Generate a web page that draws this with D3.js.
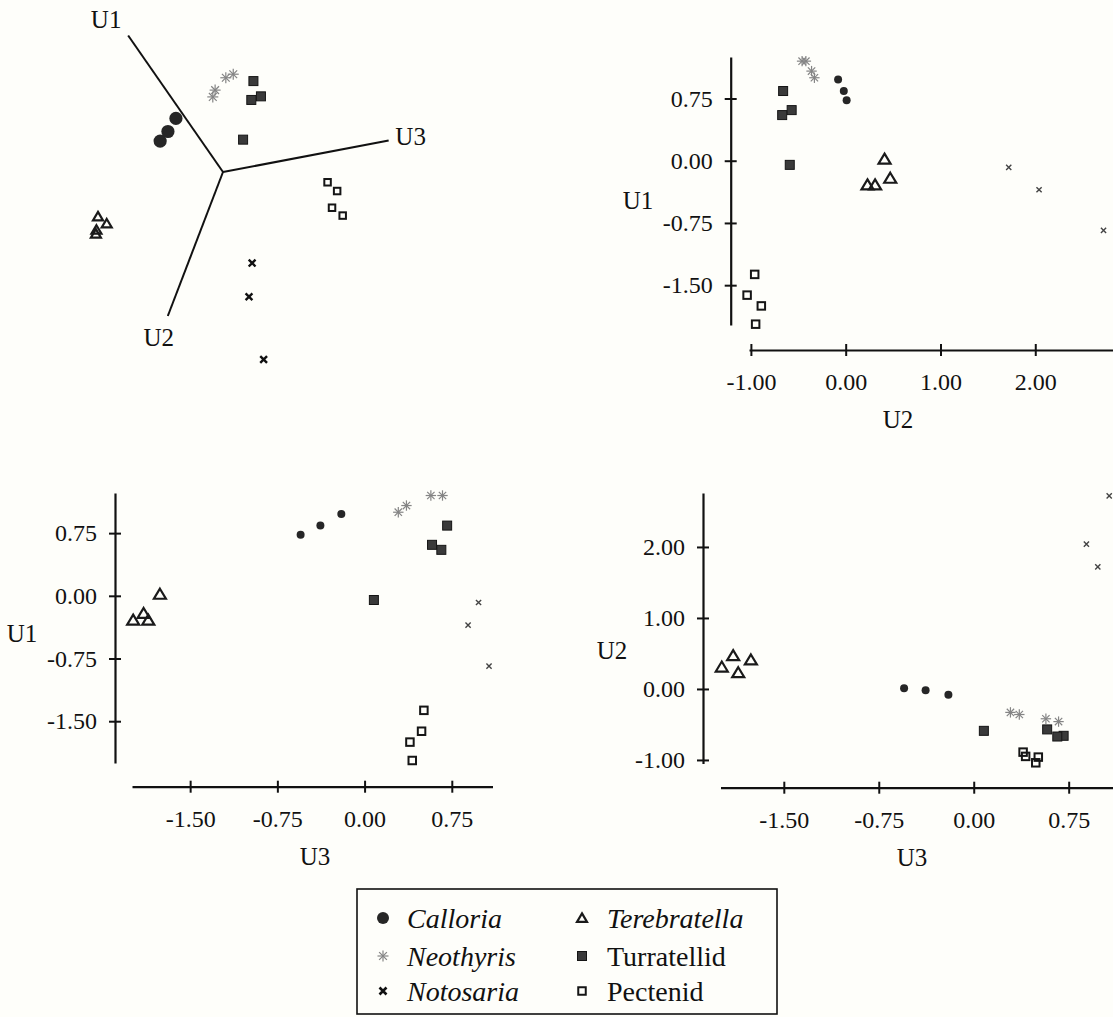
<!DOCTYPE html>
<html><head><meta charset="utf-8">
<script src="https://cdn.jsdelivr.net/npm/d3@7"></script>
<style>body{margin:0;background:#fefefa}svg{display:block}text{font-family:"Liberation Serif","Times New Roman",serif}</style>
</head><body><svg id="c" width="1113" height="1017"></svg>
<script>
// ---------- data ----------
const species = ["Calloria","Neothyris","Notosaria","Terebratella","Turratellid","Pectenid"];
const italicNames = [true, true, true, true, false, false];
// each point: [U1, U2, U3]
const calloria     = [[0.73, 0.01,-0.55],[0.84,-0.02,-0.38],[0.98,-0.08,-0.20]];
const neothyris    = [[1.00,-0.33, 0.29],[1.08,-0.36, 0.36],[1.20,-0.42, 0.57],[1.20,-0.46, 0.67]];
const notosaria    = [[-0.08,1.72, 0.98],[-0.35,2.04, 0.89],[-0.84,2.72, 1.07]];
const terebratella = [[0.02, 0.41,-1.76],[-0.21,0.47,-1.90],[-0.29,0.31,-1.99],[-0.29,0.23,-1.86]];
const turratellid  = [[-0.05,-0.59,0.08],[0.61,-0.57, 0.58],[0.84,-0.66, 0.71],[0.55,-0.67, 0.66]];
const pectenid     = [[-1.37,-0.96,0.51],[-1.62,-1.04,0.49],[-1.75,-0.89,0.39],[-1.97,-0.95,0.41]];
const ticksU1  = [0.75, 0, -0.75, -1.5];
const ticksU2  = [-1, 0, 1, 2];
const ticksU2v = [2, 1, 0, -1];
const ticksU3  = [-1.5, -0.75, 0, 0.75];
const axisNames = ["U1","U2","U3"];
const axisLengths3D = [2.6, 2.5, 2.53];

const groups = [calloria, neothyris, notosaria, terebratella, turratellid, pectenid];
const FONT = '"Liberation Serif","Times New Roman",serif';
const svg = d3.select("#c");
svg.append("rect").attr("width",1113).attr("height",1017).attr("fill","#fefefa");

// ---------- symbols ----------
function sym(g, kind, x, y, big) {
  const t = g.append("g").attr("transform", `translate(${x},${y})`);
  if (kind === "Calloria") {
    t.append("circle").attr("r", big ? 6.6 : 4).attr("fill", "#262626");
  } else if (kind === "Neothyris") {
    const r = big ? 5.5 : 5.2;
    for (let a = 0; a < 180; a += 45) {
      const rad = a * Math.PI / 180;
      t.append("line").attr("x1", -r*Math.cos(rad)).attr("y1", -r*Math.sin(rad))
        .attr("x2", r*Math.cos(rad)).attr("y2", r*Math.sin(rad))
        .attr("stroke", "#858585").attr("stroke-width", 1.2);
    }
  } else if (kind === "Notosaria") {
    const r = big ? 3.4 : 2.6;
    t.append("path").attr("d", `M${-r},${-r}L${r},${r}M${-r},${r}L${r},${-r}`)
      .attr("stroke", big ? "#111" : "#444").attr("stroke-width", big ? 2.4 : 1.4).attr("fill","none");
  } else if (kind === "Terebratella") {
    const w = big ? 5 : 6, h = big ? 4.6 : 5.4;
    t.append("path").attr("d", `M0,${-h}L${w},${h*0.85}L${-w},${h*0.85}Z`)
      .attr("fill", "none").attr("stroke", "#1a1a1a").attr("stroke-width", 2.2).attr("stroke-linejoin","miter");
  } else if (kind === "Turratellid") {
    const s = 9;
    t.append("rect").attr("x", -s/2).attr("y", -s/2).attr("width", s).attr("height", s)
      .attr("fill", "#3a3a3a").attr("stroke", "#151515").attr("stroke-width", 1);
  } else if (kind === "Pectenid") {
    const s = big ? 6.5 : 7.5;
    t.append("rect").attr("x", -s/2).attr("y", -s/2).attr("width", s).attr("height", s)
      .attr("fill", "none").attr("stroke", "#151515").attr("stroke-width", 2);
  }
}

function text(g, str, x, y, size, opts = {}) {
  return g.append("text").attr("x", x).attr("y", y).text(str)
    .style("font-family", FONT).attr("font-size", size).attr("fill", "#111")
    .attr("text-anchor", opts.anchor || "middle").attr("dominant-baseline", "central")
    .attr("font-style", opts.italic ? "italic" : "normal");
}

const fmt = d => d.toFixed(2);

// ---------- 2D panels ----------
function panel(cfg) {
  const g = svg.append("g");
  const x = d3.scaleLinear().domain(cfg.xDom).range(cfg.xRange);
  const y = d3.scaleLinear().domain(cfg.yDom).range(cfg.yRange);
  const ya = g.append("g").attr("transform", `translate(${cfg.yAxisX},0)`)
    .call(d3.axisLeft(y).tickValues(cfg.yTicks).tickFormat(fmt).tickSize(6).tickSizeOuter(0).tickPadding(12));
  ya.selectAll(".tick line").attr("x1", -6).attr("x2", 6).attr("stroke-width", 2).attr("stroke","#111");
  const xa = g.append("g").attr("transform", `translate(0,${cfg.xAxisY})`)
    .call(d3.axisBottom(x).tickValues(cfg.xTicks).tickFormat(fmt).tickSize(6).tickSizeOuter(0).tickPadding(17));
  xa.selectAll(".tick line").attr("y1", -6).attr("y2", 6).attr("stroke-width", 2).attr("stroke","#111");
  [ya, xa].forEach(a => {
    a.attr("font-family", null).attr("font-size", null);
    a.select(".domain").attr("stroke-width", 2.2).attr("stroke", "#111");
    a.selectAll("text").style("font-family", FONT).attr("font-size", 24).attr("fill", "#111");
  });
  text(g, cfg.xName, cfg.xLabel[0], cfg.xLabel[1], 25);
  text(g, cfg.yName, cfg.yLabel[0], cfg.yLabel[1], 25);
  groups.forEach((pts, i) => {
    pts.forEach(p => sym(g, species[i], x(p[cfg.xi]), y(p[cfg.yi]), false));
  });
}

// top-right: U2 vs U1
panel({ xi: 1, yi: 0, xName: "U2", yName: "U1",
  xDom: [-1.02, 2.82], xRange: [749, 1113], yDom: [1.25, -1.98], yRange: [57, 325],
  yAxisX: 730.7, xAxisY: 350, xTicks: ticksU2, yTicks: ticksU1,
  xLabel: [898, 419], yLabel: [638, 200] });
// bottom-left: U3 vs U1
panel({ xi: 2, yi: 0, xName: "U3", yName: "U1",
  xDom: [-2.0, 1.1], xRange: [132, 492.5], yDom: [1.23, -2.0], yRange: [493, 763],
  yAxisX: 115, xAxisY: 786.7, xTicks: ticksU3, yTicks: ticksU1,
  xLabel: [315, 856], yLabel: [22, 633] });
// bottom-right: U3 vs U2
panel({ xi: 2, yi: 1, xName: "U3", yName: "U2",
  xDom: [-2.0, 1.1], xRange: [720.5, 1113], yDom: [2.76, -1.05], yRange: [493, 763.5],
  yAxisX: 703, xAxisY: 787.7, xTicks: ticksU3, yTicks: ticksU2v,
  xLabel: [912, 857], yLabel: [612, 650] });

// ---------- 3D projection panel (top-left) ----------
(function () {
  const g = svg.append("g");
  const dirs = [[-0.570, -0.820], [-0.345, 0.900], [1.023, -0.194]]; // screen directions of U1,U2,U3
  const sx = d3.scaleLinear().domain([0, 1]).range([223, 287]);
  const sy = d3.scaleLinear().domain([0, 1]).range([172, 236]);
  const proj = p => [
    sx(p[0]*dirs[0][0] + p[1]*dirs[1][0] + p[2]*dirs[2][0]),
    sy(p[0]*dirs[0][1] + p[1]*dirs[1][1] + p[2]*dirs[2][1])
  ];
  const labelOffsets = [[-22, -16], [-9, 21], [22, -4]];
  axisNames.forEach((name, i) => {
    const end = [0, 0, 0]; end[i] = axisLengths3D[i];
    const o = proj([0, 0, 0]), e = proj(end);
    g.append("line").attr("x1", o[0]).attr("y1", o[1]).attr("x2", e[0]).attr("y2", e[1])
      .attr("stroke", "#111").attr("stroke-width", 2);
    text(g, name, e[0] + labelOffsets[i][0], e[1] + labelOffsets[i][1], 25);
  });
  groups.forEach((pts, i) => {
    pts.forEach(p => { const q = proj(p); sym(g, species[i], q[0], q[1], true); });
  });
})();

// ---------- legend ----------
(function () {
  const g = svg.append("g");
  g.append("rect").attr("x", 357).attr("y", 889).attr("width", 420).attr("height", 125)
    .attr("fill", "#fefefa").attr("stroke", "#111").attr("stroke-width", 1.6);
  const cols = [[383, 407], [582, 607]];
  const rows = [918, 956, 991];
  species.forEach((name, i) => {
    const c = cols[Math.floor(i / 3)], r = rows[i % 3];
    if (name === "Calloria") g.append("circle").attr("cx", c[0]).attr("cy", r).attr("r", 6).attr("fill", "#262626");
    else if (name === "Notosaria") {
      g.append("path").attr("d", `M${c[0]-3.5},${r-3.5}L${c[0]+3.5},${r+3.5}M${c[0]-3.5},${r+3.5}L${c[0]+3.5},${r-3.5}`)
        .attr("stroke", "#111").attr("stroke-width", 2.6);
    } else sym(g, name, c[0], r, name === "Pectenid" ? false : true);
    text(g, name, c[1], r, 28, { anchor: "start", italic: italicNames[i] });
  });
})();
</script>
</body></html>
